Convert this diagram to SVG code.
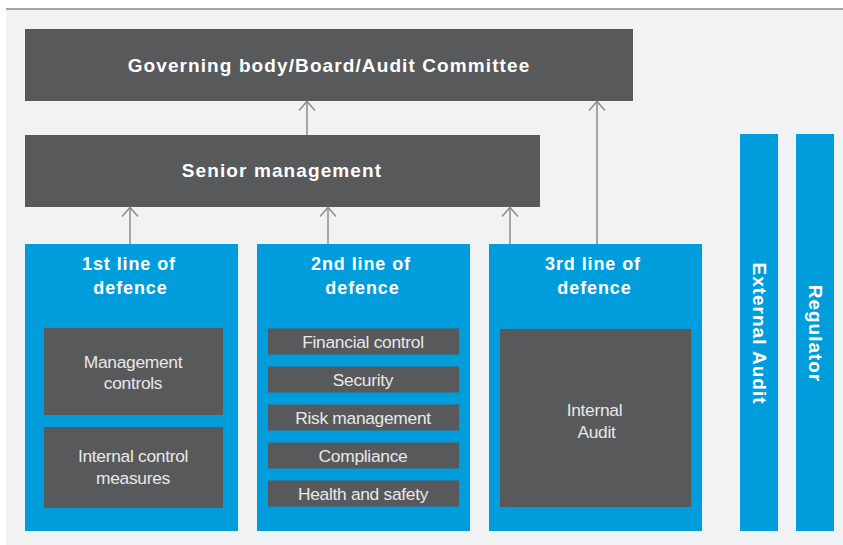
<svg xmlns="http://www.w3.org/2000/svg" width="843" height="545" viewBox="0 0 843 545">
  <style>
    .dark { fill: #58595b; }
    .blue { fill: #009ddc; }
    .title { font-family: "Liberation Sans", Arial, sans-serif; font-weight: bold; font-size: 19px; letter-spacing: 1.1px; fill: #ffffff; text-anchor: middle; }
    .head { font-family: "Liberation Sans", Arial, sans-serif; font-weight: bold; font-size: 18px; letter-spacing: 0.9px; fill: #ffffff; text-anchor: middle; }
    .side { font-family: "Liberation Sans", Arial, sans-serif; font-weight: bold; font-size: 19px; letter-spacing: 1px; fill: #ffffff; text-anchor: middle; }
    .item { font-family: "Liberation Sans", Arial, sans-serif; font-size: 17.4px; letter-spacing: -0.3px; fill: #e8e8e8; text-anchor: middle; }
    .conn { stroke: #8c8c8c; stroke-width: 1.5; fill: none; }
  </style>
  <defs>
    <marker id="chev" markerUnits="userSpaceOnUse" markerWidth="20" markerHeight="20" viewBox="-10 -10 20 20" refX="0" refY="0" orient="auto">
      <path d="M -9 -8 L 0 0 L -9 8" fill="none" stroke="#8c8c8c" stroke-width="1.5"/>
    </marker>
  </defs>

  <!-- page background and top rule -->
  <rect x="6" y="9" width="837" height="536" fill="#f1f2f4"/>
  <line x1="6" y1="9" x2="843" y2="9" stroke="#555557" stroke-width="1.2"/>

  <!-- governing body -->
  <g id="governing-body">
    <rect class="dark" x="25" y="29" width="608" height="72"/>
    <text class="title" x="329" y="72">Governing body/Board/Audit Committee</text>
  </g>

  <!-- senior management -->
  <g id="senior-management">
    <rect class="dark" x="25" y="135" width="515" height="72"/>
    <text class="title" x="282" y="177">Senior management</text>
  </g>

  <!-- first line of defence -->
  <g id="line-1">
    <rect class="blue" x="25" y="244" width="213" height="287"/>
    <text class="head" x="129" y="270">1st line of</text>
    <text class="head" x="130.5" y="294">defence</text>
    <rect class="dark" x="44" y="328" width="179" height="87"/>
    <text class="item" x="133" y="367.5">Management</text>
    <text class="item" x="133" y="389">controls</text>
    <rect class="dark" x="44" y="427" width="179" height="81"/>
    <text class="item" x="133" y="462">Internal control</text>
    <text class="item" x="133" y="483.5">measures</text>
  </g>

  <!-- second line of defence -->
  <g id="line-2">
    <rect class="blue" x="257" y="244" width="213" height="287"/>
    <text class="head" x="361" y="270">2nd line of</text>
    <text class="head" x="362.5" y="294">defence</text>
    <rect class="dark" x="268" y="328.5" width="191" height="26"/>
    <text class="item" x="363" y="347.5">Financial control</text>
    <rect class="dark" x="268" y="366.5" width="191" height="26"/>
    <text class="item" x="363" y="385.5">Security</text>
    <rect class="dark" x="268" y="404.5" width="191" height="26"/>
    <text class="item" x="363" y="423.5">Risk management</text>
    <rect class="dark" x="268" y="442.5" width="191" height="26"/>
    <text class="item" x="363" y="461.5">Compliance</text>
    <rect class="dark" x="268" y="480.5" width="191" height="26"/>
    <text class="item" x="363" y="499.5">Health and safety</text>
  </g>

  <!-- third line of defence -->
  <g id="line-3">
    <rect class="blue" x="489" y="244" width="213" height="287"/>
    <text class="head" x="593" y="270">3rd line of</text>
    <text class="head" x="594.5" y="294">defence</text>
    <rect class="dark" x="500" y="329" width="191" height="178"/>
    <text class="item" x="594.5" y="416">Internal</text>
    <text class="item" x="596.5" y="438">Audit</text>
  </g>

  <!-- external bodies -->
  <g id="external-audit">
    <rect class="blue" x="740" y="134" width="38" height="397"/>
    <text class="side" transform="translate(752.5 333.5) rotate(90)">External Audit</text>
  </g>
  <g id="regulator">
    <rect class="blue" x="796" y="134" width="38" height="397"/>
    <text class="side" transform="translate(808.5 333.5) rotate(90)">Regulator</text>
  </g>

  <!-- reporting lines -->
  <g id="connectors">
    <line class="conn" x1="307" y1="135" x2="307" y2="101.5" marker-end="url(#chev)"/>
    <line class="conn" x1="597" y1="244" x2="597" y2="101.5" marker-end="url(#chev)"/>
    <line class="conn" x1="130" y1="244" x2="130" y2="207.5" marker-end="url(#chev)"/>
    <line class="conn" x1="328" y1="244" x2="328" y2="207.5" marker-end="url(#chev)"/>
    <line class="conn" x1="510" y1="244" x2="510" y2="207.5" marker-end="url(#chev)"/>
  </g>
</svg>
